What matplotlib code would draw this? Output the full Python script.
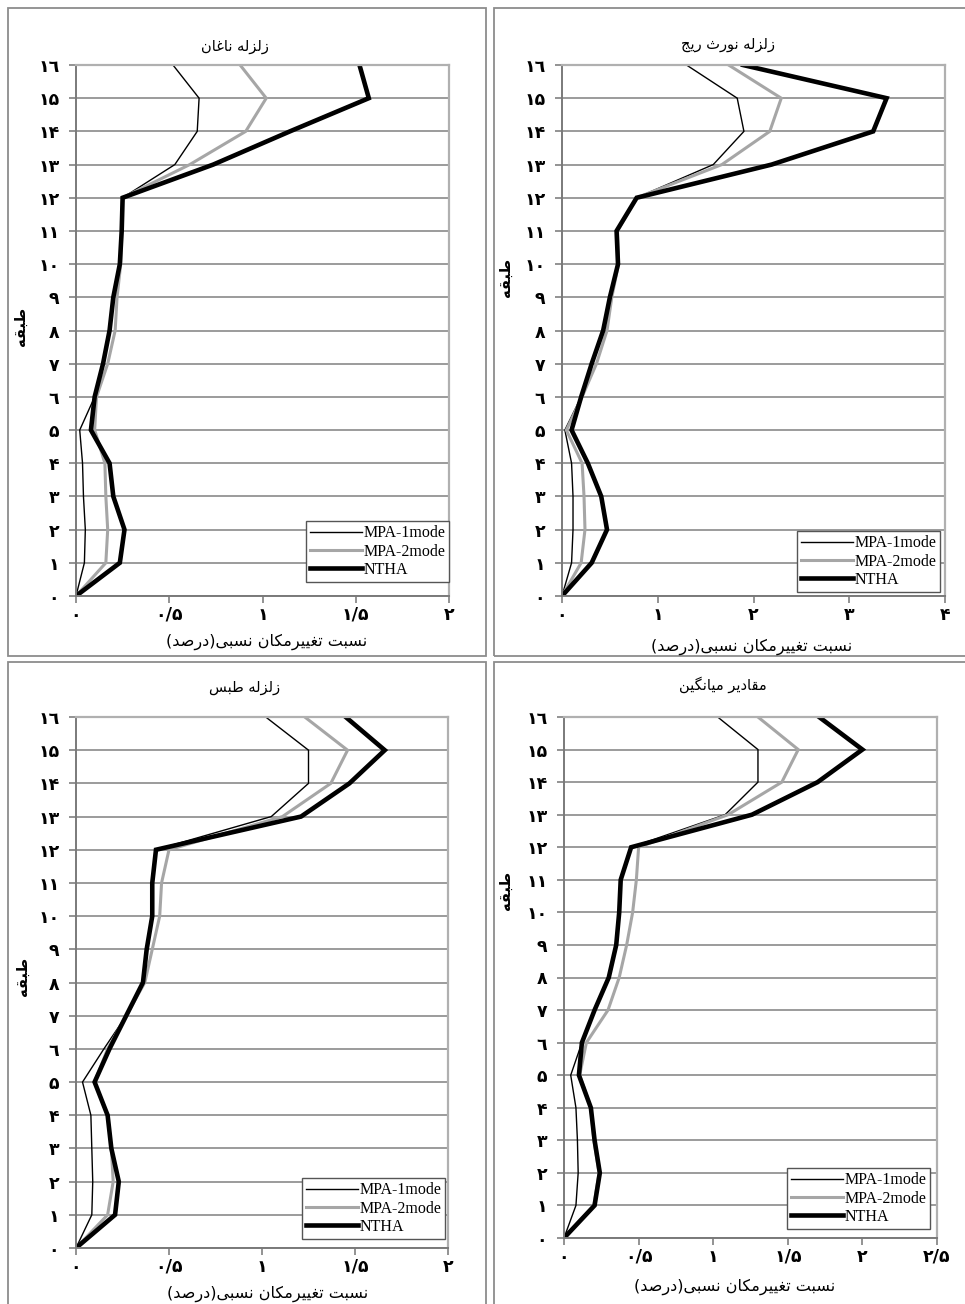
import matplotlib
matplotlib.use("Agg")
import matplotlib.pyplot as plt
from matplotlib import font_manager
from matplotlib.ft2font import FT2Font
from matplotlib.patches import Rectangle

# storey index, ground (0) to roof (16)
floors = list(range(17))

titles = ["زلزله ناغان", "زلزله نورث ریج", "زلزله طبس", "مقادیر میانگین"]
x_label = "نسبت تغییرمکان نسبی(درصد)"
y_label = "طبقه"
series_names = ["MPA-1mode", "MPA-2mode", "NTHA"]
x_limits = [2.0, 4.0, 2.0, 2.5]
x_steps = [0.5, 1.0, 0.5, 0.5]

# inter-storey drift ratio (%) per floor, floor 0 first
naghan_mpa1 = [0, 0.045, 0.05, 0.04, 0.035, 0.02, 0.10, 0.145, 0.18, 0.20, 0.235, 0.245, 0.25, 0.53, 0.65, 0.66, 0.52]
naghan_mpa2 = [0, 0.16, 0.17, 0.16, 0.155, 0.10, 0.11, 0.17, 0.21, 0.22, 0.24, 0.245, 0.25, 0.61, 0.91, 1.02, 0.88]
naghan_ntha = [0, 0.235, 0.26, 0.20, 0.18, 0.08, 0.10, 0.145, 0.18, 0.20, 0.235, 0.245, 0.25, 0.736, 1.147, 1.57, 1.52]

northridge_mpa1 = [0, 0.10, 0.115, 0.115, 0.10, 0.03, 0.20, 0.31, 0.43, 0.50, 0.585, 0.57, 0.78, 1.58, 1.90, 1.83, 1.30]
northridge_mpa2 = [0, 0.20, 0.24, 0.23, 0.21, 0.045, 0.21, 0.36, 0.47, 0.52, 0.59, 0.58, 0.78, 1.67, 2.17, 2.29, 1.74]
northridge_ntha = [0, 0.31, 0.47, 0.41, 0.27, 0.10, 0.20, 0.31, 0.43, 0.50, 0.585, 0.57, 0.78, 2.19, 3.25, 3.39, 1.89]

tabas_mpa1 = [0, 0.085, 0.09, 0.085, 0.08, 0.035, 0.15, 0.27, 0.36, 0.38, 0.41, 0.41, 0.43, 1.05, 1.25, 1.25, 1.02]
tabas_mpa2 = [0, 0.17, 0.20, 0.19, 0.17, 0.10, 0.17, 0.27, 0.37, 0.41, 0.45, 0.46, 0.50, 1.11, 1.37, 1.46, 1.23]
tabas_ntha = [0, 0.21, 0.23, 0.19, 0.17, 0.10, 0.18, 0.27, 0.36, 0.38, 0.41, 0.41, 0.43, 1.21, 1.47, 1.66, 1.45]

mean_mpa1 = [0, 0.08, 0.095, 0.09, 0.08, 0.045, 0.12, 0.205, 0.30, 0.35, 0.37, 0.38, 0.45, 1.08, 1.30, 1.30, 1.03]
mean_mpa2 = [0, 0.20, 0.235, 0.20, 0.18, 0.105, 0.15, 0.295, 0.37, 0.42, 0.46, 0.485, 0.50, 1.10, 1.46, 1.57, 1.30]
mean_ntha = [0, 0.205, 0.24, 0.205, 0.18, 0.10, 0.12, 0.205, 0.30, 0.35, 0.37, 0.38, 0.45, 1.26, 1.70, 2.00, 1.71]

panel_data = [
    (naghan_mpa1, naghan_mpa2, naghan_ntha),
    (northridge_mpa1, northridge_mpa2, northridge_ntha),
    (tabas_mpa1, tabas_mpa2, tabas_ntha),
    (mean_mpa1, mean_mpa2, mean_ntha),
]

W, H = 965, 1304

# --- minimal Persian shaping: matplotlib has no bidi/joining support -------
_cmap = FT2Font(font_manager.findfont("DejaVu Sans")).get_charmap()


def _pick(primary, fallback):
    return tuple(p if ord(p) in _cmap else f for p, f in zip(primary, fallback))


# isolated, final, initial, medial
FORMS = {
    "ا": ("\ufe8d", "\ufe8e", None, None),
    "ب": ("\ufe8f", "\ufe90", "\ufe91", "\ufe92"),
    "ت": ("\ufe95", "\ufe96", "\ufe97", "\ufe98"),
    "ث": ("\ufe99", "\ufe9a", "\ufe9b", "\ufe9c"),
    "ج": ("\ufe9d", "\ufe9e", "\ufe9f", "\ufea0"),
    "د": ("\ufea9", "\ufeaa", None, None),
    "ر": ("\ufead", "\ufeae", None, None),
    "ز": ("\ufeaf", "\ufeb0", None, None),
    "س": ("\ufeb1", "\ufeb2", "\ufeb3", "\ufeb4"),
    "ص": ("\ufeb9", "\ufeba", "\ufebb", "\ufebc"),
    "ط": ("\ufec1", "\ufec2", "\ufec3", "\ufec4"),
    "غ": ("\ufecd", "\ufece", "\ufecf", "\ufed0"),
    "ق": ("\ufed5", "\ufed6", "\ufed7", "\ufed8"),
    "ک": _pick(("\ufb8e", "\ufb8f", "\ufb90", "\ufb91"), ("\ufed9", "\ufeda", "\ufedb", "\ufedc")),
    "گ": _pick(("\ufb92", "\ufb93", "\ufb94", "\ufb95"), ("\ufed9", "\ufeda", "\ufedb", "\ufedc")),
    "ل": ("\ufedd", "\ufede", "\ufedf", "\ufee0"),
    "م": ("\ufee1", "\ufee2", "\ufee3", "\ufee4"),
    "ن": ("\ufee5", "\ufee6", "\ufee7", "\ufee8"),
    "ه": ("\ufee9", "\ufeea", "\ufeeb", "\ufeec"),
    "و": ("\ufeed", "\ufeee", None, None),
    "ی": _pick(("\ufbfc", "\ufbfd", "\ufbfe", "\ufbff"), ("\ufeef", "\ufef0", "\ufef3", "\ufef4")),
}
DUAL = {c for c, f in FORMS.items() if f[2] is not None}


def fa(text):
    out = []
    for i, ch in enumerate(text):
        if ch not in FORMS:
            out.append(ch)
            continue
        prev = text[i - 1] if i > 0 else ""
        nxt = text[i + 1] if i + 1 < len(text) else ""
        back = prev in DUAL
        fwd = ch in DUAL and nxt in FORMS
        iso, fin, ini, med = FORMS[ch]
        out.append(med if back and fwd else fin if back else ini if fwd else iso)
    return "".join(reversed(out)).translate(str.maketrans("()", ")("))


FA_DIGITS = str.maketrans("0123456789.", "۰۱۲۳۴۵٦۷۸۹/")


def fa_num(v):
    return f"{v:g}".translate(FA_DIGITS)


# --- layout (pixels) --------------------------------------------------------
axes_px = [(76, 65, 449, 596), (562, 65, 945, 596), (76, 717, 448, 1248), (564, 717, 937, 1238)]
legend_px = [(0, 14), (5, 4), (3, 9), (7, 9)]
title_px = [(235, 46), (728, 45), (245, 688), (723, 685)]
xlabel_px = [(267, 642), (752, 647), (268, 1294), (735, 1287)]
ylabel_px = [(20, 326), (505, 277), (22, 976), (505, 890)]
boxes_px = [(8, 8, 486, 656), (494, 8, 985, 656), (8, 662, 486, 1320), (494, 662, 985, 1320)]

fig = plt.figure(figsize=(W / 100, H / 100), dpi=100)
fig.patch.set_facecolor("white")

for x0, y0, x1, y1 in boxes_px:
    fig.add_artist(Rectangle((x0 / W, 1 - y1 / H), (x1 - x0) / W, (y1 - y0) / H,
                             transform=fig.transFigure, fill=False,
                             edgecolor="#8c8c8c", linewidth=1.3))

styles = [
    dict(color="black", linewidth=1.0),
    dict(color="#a6a6a6", linewidth=2.2),
    dict(color="black", linewidth=3.3),
]

for k, (x0, y0, x1, y1) in enumerate(axes_px):
    ax = fig.add_axes([x0 / W, 1 - y1 / H, (x1 - x0) / W, (y1 - y0) / H])
    for vals, name, st in zip(panel_data[k], series_names, styles):
        ax.plot(vals, floors, label=name, solid_joinstyle="miter", **st)

    xmax = x_limits[k]
    ax.set_xlim(0, xmax)
    ax.set_ylim(0, 16)
    n = int(round(xmax / x_steps[k]))
    xt = [i * x_steps[k] for i in range(n + 1)]
    ax.set_xticks(xt)
    ax.set_xticklabels([fa_num(v) for v in xt], fontsize=12.5, fontweight="bold")
    ax.set_yticks(floors)
    ax.set_yticklabels([fa_num(v) for v in floors], fontsize=12.5, fontweight="bold")
    ax.tick_params(axis="both", direction="out", length=5, width=1.2, color="#808080")
    ax.tick_params(axis="y", pad=7)
    ax.tick_params(axis="x", pad=2)

    ax.grid(axis="y", color="#8a8a8a", linewidth=1.2)
    ax.set_axisbelow(True)
    for side in ("top", "right"):
        ax.spines[side].set_color("#b0b0b0")
        ax.spines[side].set_linewidth(1.6)
    for side in ("left", "bottom"):
        ax.spines[side].set_color("#7a7a7a")
        ax.spines[side].set_linewidth(1.4)

    dx, dy = legend_px[k]
    aw, ah = x1 - x0, y1 - y0
    leg = ax.legend(loc="lower right", bbox_to_anchor=(1 - dx / aw, dy / ah),
                    borderaxespad=0, fancybox=False, framealpha=1,
                    edgecolor="#555555", handlelength=3.2, handletextpad=0.1,
                    labelspacing=0.15, borderpad=0.25,
                    prop=dict(family="Liberation Serif", size=11.5))
    leg.get_frame().set_linewidth(1.0)

    tx, ty = title_px[k]
    fig.text(tx / W, 1 - ty / H, fa(titles[k]), ha="center", va="center", fontsize=10.5)
    lx, ly = xlabel_px[k]
    fig.text(lx / W, 1 - ly / H, fa(x_label), ha="center", va="center", fontsize=11.5)
    yx, yy = ylabel_px[k]
    fig.text(yx / W, 1 - yy / H, fa(y_label), ha="center", va="center",
             fontsize=10.5, fontweight="bold", rotation=90)

fig.savefig("out.png", dpi=100)
